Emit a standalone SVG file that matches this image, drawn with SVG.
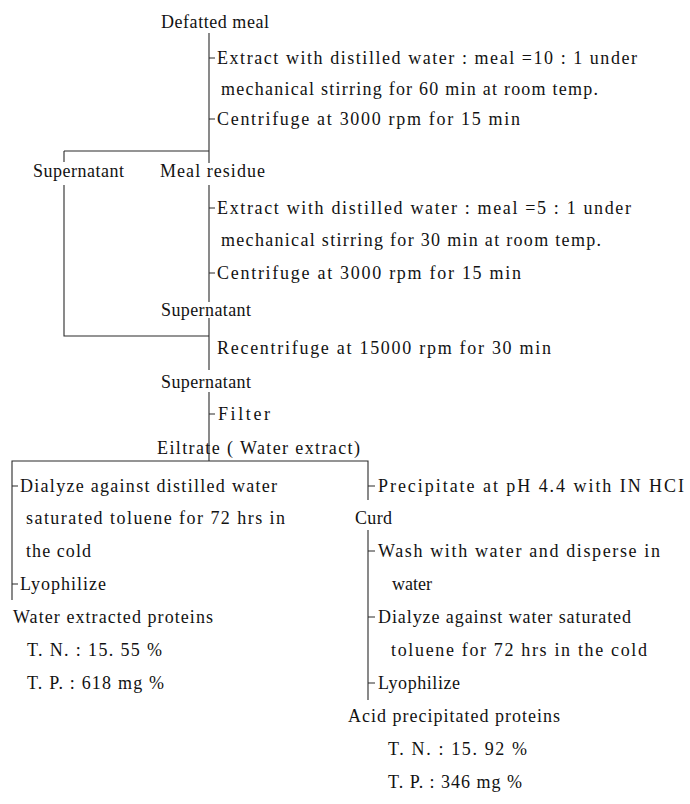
<svg xmlns="http://www.w3.org/2000/svg" width="690" height="804" viewBox="0 0 690 804">
<style>
text { font-family: "Liberation Serif", "Times New Roman", serif; font-size: 18px; fill: #121212; }
.ln { stroke: #2a2a2a; stroke-width: 1.1; fill: none; }
</style>
<rect width="690" height="804" fill="#ffffff"/>
<g id="connectors">
  <path class="ln" d="M209 33 V163 M209 185 V302 M209 318 V370 M209 392 V461"/>
  <path class="ln" d="M64 151 H209 M64 151 V162 M64 185 V336 H209"/>
  <path class="ln" d="M209 58 H215 M209 119 H215 M209 208 H215 M209 273 H215 M209 414 H215"/>
  <path class="ln" d="M12 600 V461 H368 V500"/>
  <path class="ln" d="M12 486 H18 M12 584 H18 M368 486 H375"/>
  <path class="ln" d="M368 530 V700 M368 551 H375 M368 617 H375 M368 683 H375"/>
</g>
<g id="defatted-meal"><text x="161" y="28" textLength="108" lengthAdjust="spacing">Defatted meal</text></g>
<g id="step-extract-1">
  <text x="217" y="64" textLength="420" lengthAdjust="spacing">Extract with distilled water  : meal  =10 : 1 under</text>
  <text x="221" y="95" textLength="377" lengthAdjust="spacing">mechanical stirring for 60 min at room temp.</text>
</g>
<g id="step-centrifuge-1"><text x="217" y="125" textLength="303" lengthAdjust="spacing">Centrifuge at 3000 rpm for 15 min</text></g>
<g id="supernatant-1"><text x="33" y="177" textLength="91" lengthAdjust="spacing">Supernatant</text></g>
<g id="meal-residue"><text x="160" y="177" textLength="105" lengthAdjust="spacing">Meal residue</text></g>
<g id="step-extract-2">
  <text x="217" y="214" textLength="414" lengthAdjust="spacing">Extract with distilled water : meal  =5 : 1 under</text>
  <text x="221" y="246" textLength="380" lengthAdjust="spacing">mechanical stirring for 30 min at room temp.</text>
</g>
<g id="step-centrifuge-2"><text x="217" y="279" textLength="304" lengthAdjust="spacing">Centrifuge at 3000 rpm for 15 min</text></g>
<g id="supernatant-2"><text x="161" y="316" textLength="90" lengthAdjust="spacing">Supernatant</text></g>
<g id="step-recentrifuge"><text x="217" y="354" textLength="334" lengthAdjust="spacing">Recentrifuge at 15000 rpm for 30 min</text></g>
<g id="supernatant-3"><text x="161" y="388" textLength="90" lengthAdjust="spacing">Supernatant</text></g>
<g id="step-filter"><text x="218" y="420" textLength="52" lengthAdjust="spacing">Filter</text></g>
<g id="filtrate"><text x="157" y="454" textLength="203" lengthAdjust="spacing">Eiltrate ( Water extract)</text></g>
<g id="step-dialyze-left">
  <text x="20" y="492" textLength="257" lengthAdjust="spacing">Dialyze against distilled water</text>
  <text x="26" y="524" textLength="259" lengthAdjust="spacing">saturated toluene for 72 hrs in</text>
  <text x="26" y="557" textLength="65" lengthAdjust="spacing">the cold</text>
</g>
<g id="step-lyophilize-left"><text x="20" y="590" textLength="86" lengthAdjust="spacing">Lyophilize</text></g>
<g id="water-extracted-proteins">
  <text x="13" y="623" textLength="200" lengthAdjust="spacing">Water extracted proteins</text>
  <text x="27" y="656" textLength="135" lengthAdjust="spacing">T. N. : 15. 55 %</text>
  <text x="27" y="689" textLength="137" lengthAdjust="spacing">T. P. : 618 mg %</text>
</g>
<g id="step-precipitate"><text x="378" y="492" textLength="306" lengthAdjust="spacing">Precipitate at pH 4.4 with IN HCI</text></g>
<g id="curd"><text x="355" y="524" textLength="37" lengthAdjust="spacing">Curd</text></g>
<g id="step-wash">
  <text x="378" y="557" textLength="282" lengthAdjust="spacing">Wash with water and disperse  in</text>
  <text x="392" y="590" textLength="40" lengthAdjust="spacing">water</text>
</g>
<g id="step-dialyze-right">
  <text x="378" y="623" textLength="253" lengthAdjust="spacing">Dialyze against water saturated</text>
  <text x="391" y="656" textLength="256" lengthAdjust="spacing">toluene for 72 hrs in the cold</text>
</g>
<g id="step-lyophilize-right"><text x="378" y="689" textLength="82" lengthAdjust="spacing">Lyophilize</text></g>
<g id="acid-precipitated-proteins">
  <text x="348" y="722" textLength="212" lengthAdjust="spacing">Acid precipitated proteins</text>
  <text x="388" y="755" textLength="139" lengthAdjust="spacing">T. N. : 15. 92 %</text>
  <text x="388" y="788" textLength="134" lengthAdjust="spacing">T. P. : 346 mg %</text>
</g>
</svg>
